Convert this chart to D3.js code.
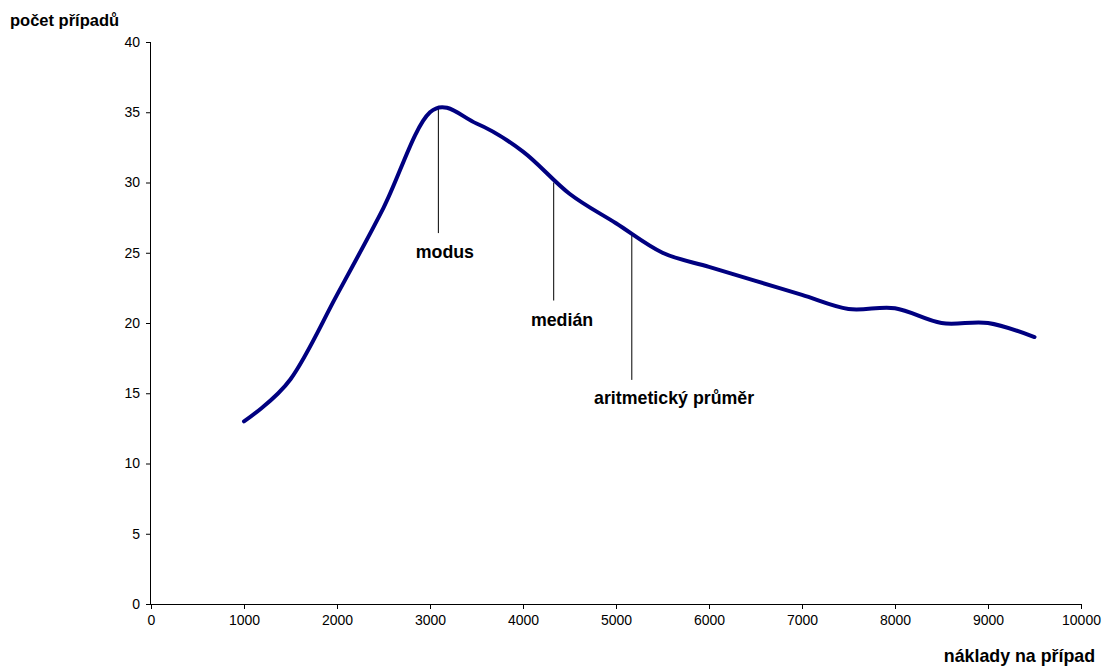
<!DOCTYPE html>
<html>
<head>
<meta charset="utf-8">
<script src="https://cdn.jsdelivr.net/npm/d3@7"></script>
<style>
  html, body { margin: 0; padding: 0; background: #fff; }
  svg { display: block; font-family: "Liberation Sans", Arial, sans-serif; }
</style>
</head>
<body>
<svg id="chart" width="1106" height="666"></svg>
<script>
// ---- data ----
const costs = [1000, 1500, 2000, 2500, 3000, 3500, 4000, 4500, 5000, 5500, 6000, 6500, 7000, 7500, 8000, 8500, 9000, 9500];
const counts = [13, 16, 22, 28.2, 35, 34.2, 32.2, 29.2, 27.1, 25, 24, 23, 22, 21, 21.05, 20, 20, 19];

const xTicks = [0, 1000, 2000, 3000, 4000, 5000, 6000, 7000, 8000, 9000, 10000];
const yTicks = [0, 5, 10, 15, 20, 25, 30, 35, 40];

const markerNames = ["modus", "medián", "aritmetický průměr"];
const markerX = [3090, 4330, 5170];
const markerTop = [35.3, 30.0, 26.4];
const markerBottom = [26.4, 21.6, 15.95];
const labelX = [3160, 4420, 5625];
const labelY = [24.6, 19.8, 14.2];

const yTitle = "počet případů";
const xTitle = "náklady na případ";

// ---- layout ----
const svg = d3.select("#chart");
const mLeft = 151, mRight = 1081, mTop = 42, mBottom = 604;

const x = d3.scaleLinear().domain([0, 10000]).range([mLeft, mRight]);
const y = d3.scaleLinear().domain([0, 40]).range([mBottom, mTop]);

// axes
const xAxis = d3.axisBottom(x).tickValues(xTicks).tickSize(5).tickPadding(6).tickFormat(d3.format("d"));
const yAxis = d3.axisLeft(y).tickValues(yTicks).tickSize(5).tickPadding(6).tickFormat(d3.format("d"));

const gx = svg.append("g").attr("transform", `translate(0,${mBottom})`).call(xAxis);
const gy = svg.append("g").attr("transform", `translate(${mLeft},0)`).call(yAxis);

[gx, gy].forEach(g => {
  g.select(".domain").attr("stroke", "#000").attr("stroke-width", 1);
  g.selectAll(".tick line").attr("stroke", "#000");
  g.selectAll(".tick text").attr("fill", "#000").style("font-size", "14px")
    .style("font-family", "'Liberation Sans', Arial, sans-serif");
});
gx.select(".domain").attr("d", `M${mLeft},0.5H${mRight}`);
gy.select(".domain").attr("d", `M-0.5,${mTop}V${mBottom}`);

// marker lines
const markers = markerNames.map((n, i) => ({name: n, x: markerX[i], t: markerTop[i], b: markerBottom[i], lx: labelX[i], ly: labelY[i]}));

svg.append("g").selectAll("line").data(markers).join("line")
  .attr("x1", d => x(d.x)).attr("x2", d => x(d.x))
  .attr("y1", d => y(d.t)).attr("y2", d => y(d.b))
  .attr("stroke", "#000").attr("stroke-width", 1);

svg.append("g").selectAll("text").data(markers).join("text")
  .attr("x", d => x(d.lx)).attr("y", d => y(d.ly))
  .attr("text-anchor", "middle")
  .style("font-size", "17.8px").style("font-weight", "bold")
  .attr("fill", "#000")
  .text(d => d.name);

// curve
const pts = costs.map((c, i) => [c, counts[i]]);
const line = d3.line().x(d => x(d[0])).y(d => y(d[1])).curve(d3.curveCardinal.tension(0));
svg.append("path").datum(pts)
  .attr("d", line)
  .attr("fill", "none")
  .attr("stroke", "#000080")
  .attr("stroke-width", 4)
  .attr("stroke-linejoin", "round")
  .attr("stroke-linecap", "round");

// titles
svg.append("text").attr("x", 10).attr("y", 26)
  .style("font-size", "16.5px").style("font-weight", "bold").attr("fill", "#000")
  .text(yTitle);
svg.append("text").attr("x", 1095).attr("y", 662).attr("text-anchor", "end")
  .style("font-size", "17.8px").style("font-weight", "bold").attr("fill", "#000")
  .text(xTitle);
</script>
</body>
</html>
